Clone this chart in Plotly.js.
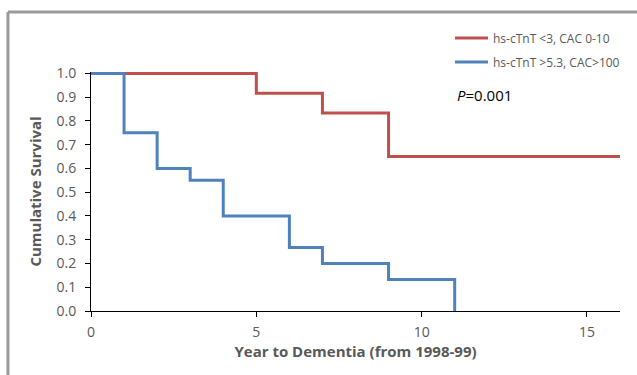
<!DOCTYPE html>
<html>
<head>
<meta charset="utf-8">
<script src="https://cdn.plot.ly/plotly-3.0.1.min.js"></script>
<style>
html,body{margin:0;padding:0;background:#fff;}
#chart{width:637px;height:375px;}
</style>
</head>
<body>
<div id="chart"></div>
<script>
// Kaplan-Meier step data
const lowYears = [0, 5, 7, 9, 16];
const lowSurvival = [1.0, 0.917, 0.833, 0.65, 0.65];
const highYears = [0, 1, 2, 3, 4, 6, 7, 9, 11, 11];
const highSurvival = [1.0, 0.75, 0.60, 0.55, 0.40, 0.267, 0.20, 0.133, 0.133, 0.0];
const seriesNames = ['hs-cTnT <3, CAC 0-10', 'hs-cTnT >5.3, CAC>100'];
const xTicks = [0, 5, 10, 15];
const yTicks = [0, 0.1, 0.2, 0.3, 0.4, 0.5, 0.6, 0.7, 0.8, 0.9, 1.0];

const FONT = '"Open Sans", Lato, sans-serif';
const GRAY = '#595959';

const traces = [
  {x: lowYears, y: lowSurvival, name: seriesNames[0], mode: 'lines', legend: 'legend',
   line: {shape: 'hv', color: '#C0504D', width: 3}},
  {x: highYears, y: highSurvival, name: seriesNames[1], mode: 'lines', legend: 'legend2',
   line: {shape: 'hv', color: '#4F81BD', width: 3}}
];

const legendBase = {xref: 'paper', yref: 'paper', xanchor: 'left', yanchor: 'middle',
  font: {family: FONT, size: 12, color: GRAY}, bgcolor: 'rgba(0,0,0,0)', itemwidth: 33};

const layout = {
  width: 637, height: 375,
  paper_bgcolor: '#fff', plot_bgcolor: '#fff',
  margin: {l: 91, r: 14, t: 72, b: 64},
  showlegend: true,
  legend: Object.assign({}, legendBase, {x: 0.6786, y: 1.142}),
  legend2: Object.assign({}, legendBase, {x: 0.6786, y: 1.042}),
  xaxis: {range: [0, 16], tickvals: xTicks, ticks: 'outside', ticklen: 5, tickcolor: '#000',
          showline: true, linecolor: '#000', linewidth: 1, showgrid: false, zeroline: false,
          ticklabelstandoff: 3,
          tickfont: {family: FONT, size: 14, color: GRAY},
          title: {text: 'Year to Dementia (from 1998-99)', standoff: 3,
                  font: {family: FONT, size: 15, color: GRAY, weight: 'bold'}}},
  yaxis: {range: [0, 1.006], tickvals: yTicks, tickformat: '.1f', ticks: 'outside', ticklen: 5,
          tickcolor: '#000', showline: true, linecolor: '#000', linewidth: 1, showgrid: false,
          zeroline: false, ticklabelstandoff: 6, tickfont: {family: FONT, size: 14, color: GRAY},
          title: {text: 'Cumulative Survival', standoff: 11,
                  font: {family: FONT, size: 15, color: GRAY, weight: 'bold'}}},
  annotations: [
    {xref: 'paper', yref: 'paper', x: 0.688, y: 0.904, xanchor: 'left', yanchor: 'middle',
     text: '<i>P</i>=0.001', showarrow: false, font: {family: FONT, size: 15, color: '#000'}}
  ],
  shapes: [
    {type: 'line', xref: 'paper', yref: 'paper', x0: -0.157, x1: 1.1, y0: 1.251, y1: 1.251,
     line: {color: '#9a9a9a', width: 3}},
    {type: 'line', xref: 'paper', yref: 'paper', x0: -0.157, x1: -0.157, y0: 1.251, y1: -0.3,
     line: {color: '#9a9a9a', width: 3}}
  ]
};

Plotly.newPlot('chart', traces, layout, {displayModeBar: false, staticPlot: true});
</script>
</body>
</html>
